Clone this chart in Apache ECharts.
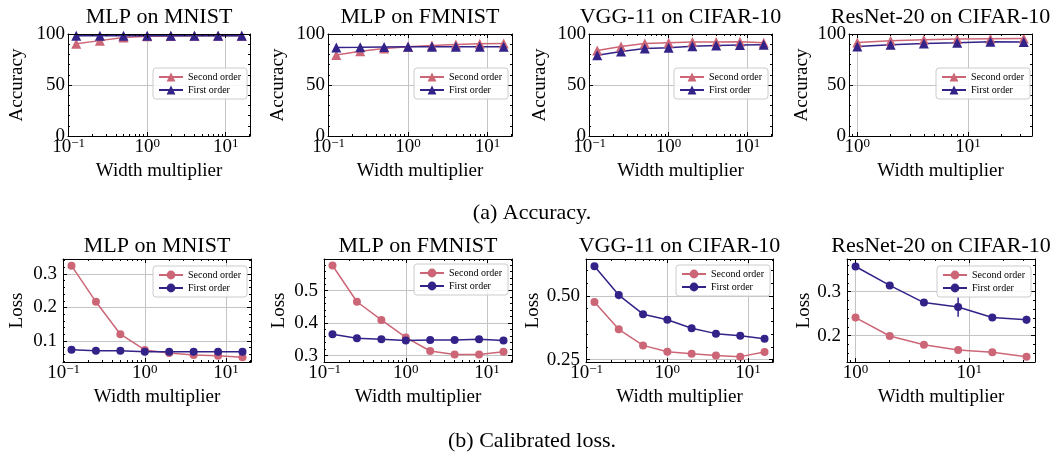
<!DOCTYPE html>
<html>
<head>
<meta charset="utf-8">
<script src="https://cdn.jsdelivr.net/npm/echarts@6/dist/echarts.min.js"></script>
<style>
html,body{margin:0;padding:0;background:#fff}
#main{width:1060px;height:458px}
</style>
</head>
<body>
<div id="main"></div>
<script>
// x values (width multiplier)
var widthsMlp = [0.125, 0.25, 0.5, 1, 2, 4, 8, 16];
var widthsResnet = [1, 2, 4, 8, 16, 32];
var titles = ['MLP on MNIST', 'MLP on FMNIST', 'VGG-11 on CIFAR-10', 'ResNet-20 on CIFAR-10'];

// accuracy
var accMnistSecond = [90.5, 93.5, 96.5, 97.8, 98.1, 98.2, 98.3, 98.2];
var accMnistFirst = [98.2, 98.3, 98.4, 98.4, 98.4, 98.4, 98.4, 98.3];
var accFmnistSecond = [79.5, 83.2, 85.8, 87.5, 88.8, 89.8, 90.4, 90.8];
var accFmnistFirst = [86.8, 87.0, 87.3, 87.5, 87.5, 87.6, 87.6, 87.5];
var accVggSecond = [83.8, 87.8, 90.8, 91.4, 92.1, 92.1, 92.4, 91.4];
var accVggFirst = [79.2, 82.8, 85.8, 86.5, 88.1, 88.8, 89.1, 89.4];
var accResnetSecond = [91.7, 93.4, 94.4, 95.0, 95.4, 95.7];
var accResnetFirst = [87.8, 89.4, 90.8, 91.4, 92.4, 92.1];

// calibrated loss (+ error bars)
var lossMnistSecond = [0.325, 0.217, 0.120, 0.073, 0.064, 0.058, 0.056, 0.051];
var lossMnistFirst = [0.074, 0.071, 0.071, 0.068, 0.068, 0.068, 0.068, 0.068];
var lossFmnistSecond = [0.578, 0.466, 0.410, 0.356, 0.314, 0.303, 0.303, 0.312];
var lossFmnistFirst = [0.366, 0.353, 0.350, 0.346, 0.348, 0.348, 0.350, 0.346];
var lossVggSecond = [0.476, 0.369, 0.306, 0.281, 0.273, 0.266, 0.262, 0.280];
var lossVggFirst = [0.616, 0.503, 0.428, 0.406, 0.373, 0.352, 0.344, 0.332];
var lossVggFirstErr = [0.004, 0.016, 0.004, 0.003, 0.003, 0.003, 0.003, 0.003];
var lossResnetSecond = [0.241, 0.199, 0.179, 0.167, 0.162, 0.152];
var lossResnetFirst = [0.357, 0.314, 0.275, 0.265, 0.241, 0.236];
var lossResnetFirstErr = [0.004, 0.003, 0.004, 0.022, 0.006, 0.009];

// tick labels
var xTicksMlp = [0.1, 1, 10];
var xTicksResnet = [1, 10];
var yTicksAcc = [0, 50, 100];
var yTicksMnistLoss = [0.1, 0.2, 0.3];
var yTicksFmnistLoss = [0.3, 0.4, 0.5];
var yTicksVggLoss = [0.25, 0.50];
var yTicksResnetLoss = [0.2, 0.3];

var font = 'Liberation Serif';
var red = '#CC6677', blue = '#332288';

var panels = [
  {x: widthsMlp, s: accMnistSecond, f: accMnistFirst, xr: [0.0982, 20.37], xt: xTicksMlp, yr: [0, 100], yt: yTicksAcc, ym: 10, dec: 0, acc: true},
  {x: widthsMlp, s: accFmnistSecond, f: accFmnistFirst, xr: [0.0982, 20.37], xt: xTicksMlp, yr: [0, 100], yt: yTicksAcc, ym: 10, dec: 0, acc: true},
  {x: widthsMlp, s: accVggSecond, f: accVggFirst, xr: [0.0982, 20.37], xt: xTicksMlp, yr: [0, 100], yt: yTicksAcc, ym: 10, dec: 0, acc: true},
  {x: widthsResnet, s: accResnetSecond, f: accResnetFirst, xr: [0.841, 38.0], xt: xTicksResnet, yr: [0, 100], yt: yTicksAcc, ym: 10, dec: 0, acc: true},
  {x: widthsMlp, s: lossMnistSecond, f: lossMnistFirst, xr: [0.0982, 20.37], xt: xTicksMlp, yr: [0.037, 0.345], yt: yTicksMnistLoss, ym: 0.02, dec: 1},
  {x: widthsMlp, s: lossFmnistSecond, f: lossFmnistFirst, xr: [0.0982, 20.37], xt: xTicksMlp, yr: [0.280, 0.598], yt: yTicksFmnistLoss, ym: 0.02, dec: 1},
  {x: widthsMlp, s: lossVggSecond, f: lossVggFirst, fe: lossVggFirstErr, xr: [0.0982, 20.37], xt: xTicksMlp, yr: [0.241, 0.644], yt: yTicksVggLoss, ym: 0.05, dec: 2},
  {x: widthsResnet, s: lossResnetSecond, f: lossResnetFirst, fe: lossResnetFirstErr, xr: [0.841, 38.0], xt: xTicksResnet, yr: [0.140, 0.374], yt: yTicksResnetLoss, ym: 0.02, dec: 1}
];

// left, top, width, height, yNameGap, legendLeft, legendTop, labelMargin
var boxes = [
  [68, 34, 182, 102, 41, 153, 68, 3],
  [328, 34, 184, 102, 40, 414, 68, 3],
  [589, 34, 183, 102, 39, 674, 68, 3],
  [849, 34, 183, 102, 37, 936, 68, 3],
  [63, 259, 188, 103, 36, 153, 266, 6],
  [324, 259, 188, 103, 35, 414, 264, 6],
  [586, 259, 187, 103, 33, 676, 265, 6],
  [847, 259, 188, 103, 33, 937, 266, 6]
];

function logMinor(min, max) {
  var out = [];
  for (var e = -3; e <= 3; e++) {
    for (var m = 2; m <= 9; m++) {
      var v = m * Math.pow(10, e);
      if (v > min && v < max) out.push(v);
    }
  }
  return out;
}
function linMinor(min, max, step) {
  var out = [];
  for (var k = Math.ceil(min / step); k * step < max; k++) out.push(+(k * step).toFixed(6));
  return out;
}
function fmtPow(v) {
  var e = Math.round(Math.log(v) / Math.LN10);
  return '{b|10}{s|' + (e < 0 ? '\u2212' + (-e) : e) + '}';
}
var tickLine = {color: '#000', width: 1};
var gridLine = {color: '#c4c4c4', width: 1};
var axisFont = {fontFamily: font, fontSize: 19, color: '#000'};

var grids = [], xAxes = [], yAxes = [], series = [], legends = [], titleList = [];

panels.forEach(function (p, i) {
  var b = boxes[i];
  grids.push({left: b[0], top: b[1], width: b[2], height: b[3], show: false});

  var xb = {type: 'log', logBase: 10, gridIndex: i, min: p.xr[0], max: p.xr[1]};
  var xm = logMinor(p.xr[0], p.xr[1]);
  xAxes.push(Object.assign({}, xb, {
    position: 'bottom', z: 1,
    axisLine: {show: false, onZero: false},
    axisTick: {show: true, inside: true, length: 4, customValues: p.xt, lineStyle: tickLine},
    axisLabel: {customValues: p.xt, margin: 1, formatter: fmtPow, rich: {
      b: {fontFamily: font, fontSize: 19, color: '#000', lineHeight: 20},
      s: {fontFamily: font, fontSize: 13, color: '#000', lineHeight: 9, verticalAlign: 'top'}
    }},
    splitLine: {show: true, lineStyle: gridLine},
    name: 'Width multiplier', nameLocation: 'middle', nameGap: 26, nameTextStyle: axisFont
  }));
  xAxes.push(Object.assign({}, xb, {
    position: 'bottom', z: 3,
    axisLine: {show: true, onZero: false, lineStyle: tickLine},
    axisTick: {show: true, inside: true, length: 2, customValues: xm, lineStyle: tickLine},
    axisLabel: {show: false}, splitLine: {show: false}
  }));
  xAxes.push(Object.assign({}, xb, {
    position: 'top', z: 3,
    axisLine: {show: true, onZero: false, lineStyle: tickLine},
    axisTick: {show: true, inside: true, length: 4, customValues: p.xt, lineStyle: tickLine},
    axisLabel: {show: false}, splitLine: {show: false}
  }));
  xAxes.push(Object.assign({}, xb, {
    position: 'top', z: 3,
    axisLine: {show: false, onZero: false},
    axisTick: {show: true, inside: true, length: 2, customValues: xm, lineStyle: tickLine},
    axisLabel: {show: false}, splitLine: {show: false}
  }));

  var yb = {type: 'value', gridIndex: i, min: p.yr[0], max: p.yr[1]};
  var ymv = linMinor(p.yr[0], p.yr[1], p.ym);
  yAxes.push(Object.assign({}, yb, {
    position: 'left', z: 1,
    axisLine: {show: false, onZero: false},
    axisTick: {show: true, inside: true, length: 4, customValues: p.yt, lineStyle: tickLine},
    axisLabel: {customValues: p.yt, margin: b[7], fontFamily: font, fontSize: 19, color: '#000',
      formatter: (function (d) { return function (v) { return v.toFixed(d); }; })(p.dec)},
    splitLine: {show: true, lineStyle: gridLine},
    name: p.acc ? 'Accuracy' : 'Loss', nameLocation: 'middle', nameGap: b[4], nameTextStyle: axisFont
  }));
  yAxes.push(Object.assign({}, yb, {
    position: 'left', z: 3,
    axisLine: {show: true, onZero: false, lineStyle: tickLine},
    axisTick: {show: true, inside: true, length: 2, customValues: ymv, lineStyle: tickLine},
    axisLabel: {show: false}, splitLine: {show: false}
  }));
  yAxes.push(Object.assign({}, yb, {
    position: 'right', z: 3,
    axisLine: {show: true, onZero: false, lineStyle: tickLine},
    axisTick: {show: true, inside: true, length: 4, customValues: p.yt, lineStyle: tickLine},
    axisLabel: {show: false}, splitLine: {show: false}
  }));
  yAxes.push(Object.assign({}, yb, {
    position: 'right', z: 3,
    axisLine: {show: false, onZero: false},
    axisTick: {show: true, inside: true, length: 2, customValues: ymv, lineStyle: tickLine},
    axisLabel: {show: false}, splitLine: {show: false}
  }));

  var sym = p.acc ? 'triangle' : 'circle';
  var symSize = p.acc ? 10 : 8;
  var defs = [['Second order', p.s, red, p.se], ['First order', p.f, blue, p.fe]];
  defs.forEach(function (d) {
    series.push({
      type: 'line', name: d[0] + '#' + i, xAxisIndex: 4 * i, yAxisIndex: 4 * i,
      data: p.x.map(function (x, k) { return [x, d[1][k]]; }),
      symbol: sym, symbolSize: symSize, showSymbol: true,
      lineStyle: {color: d[2], width: 1.5}, itemStyle: {color: d[2]},
      z: 2, animation: false
    });
  });
  defs.forEach(function (d) {
    if (!d[3]) return;
    var col = d[2];
    series.push({
      type: 'custom', name: 'err' + i, xAxisIndex: 4 * i, yAxisIndex: 4 * i,
      data: p.x.map(function (x, k) { return [x, d[1][k], d[3][k]]; }),
      renderItem: function (params, api) {
        var x = api.value(0), y = api.value(1), e = api.value(2);
        var a = api.coord([x, y + e]), c = api.coord([x, y - e]);
        return {type: 'line', shape: {x1: a[0], y1: a[1], x2: c[0], y2: c[1]},
          style: {stroke: col, lineWidth: 1.5}};
      },
      z: 2, animation: false
    });
  });

  legends.push({
    orient: 'vertical', left: b[5], top: b[6], selectedMode: false,
    data: ['Second order#' + i, 'First order#' + i],
    formatter: function (n) { return n.split('#')[0]; },
    backgroundColor: 'rgba(255,255,255,0.85)', borderColor: '#cccccc', borderWidth: 1, borderRadius: 3,
    padding: [4, 6, 4, 5], itemGap: 3, itemWidth: 24, itemHeight: 11,
    textStyle: {fontFamily: font, fontSize: 10, color: '#000'}
  });

  titleList.push({
    text: titles[i % 4], left: b[0] + b[2] / 2, top: i < 4 ? 6 : 235, textAlign: 'center', padding: 0,
    textStyle: {fontFamily: font, fontSize: 22, fontWeight: 'normal', color: '#000'}
  });
});

titleList.push({text: '(a) Accuracy.', left: 532, top: 202, textAlign: 'center', padding: 0,
  textStyle: {fontFamily: font, fontSize: 22, fontWeight: 'normal', color: '#000'}});
titleList.push({text: '(b) Calibrated loss.', left: 532, top: 430, textAlign: 'center', padding: 0,
  textStyle: {fontFamily: font, fontSize: 22, fontWeight: 'normal', color: '#000'}});

var myChart = echarts.init(document.getElementById('main'));
myChart.setOption({
  animation: false,
  backgroundColor: '#fff',
  title: titleList,
  legend: legends,
  grid: grids,
  xAxis: xAxes,
  yAxis: yAxes,
  series: series
});
</script>
</body>
</html>
